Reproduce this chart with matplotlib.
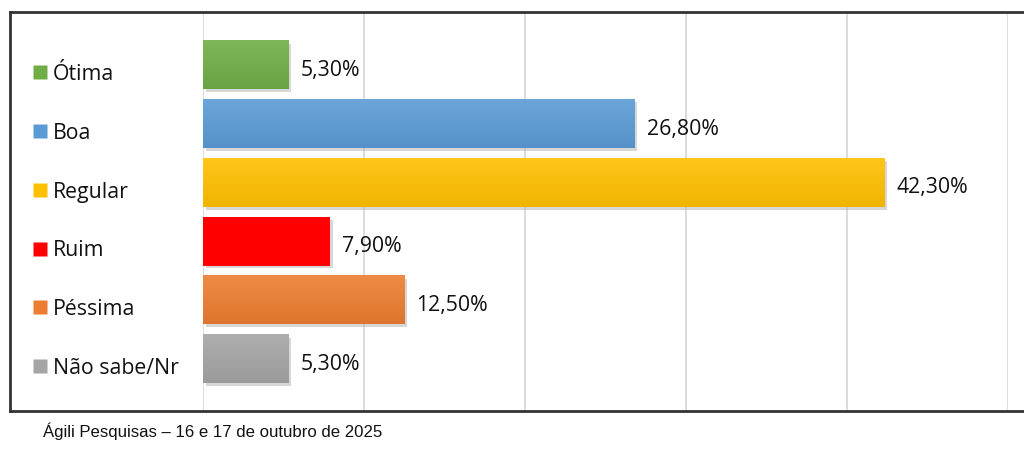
import numpy as np
import matplotlib
matplotlib.use("Agg")
import matplotlib.pyplot as plt
import matplotlib.patheffects as pe
from matplotlib.transforms import blended_transform_factory
from matplotlib.colors import to_rgb

categories = ["Ótima", "Boa", "Regular", "Ruim", "Péssima", "Não sabe/Nr"]
values = [5.3, 26.8, 42.3, 7.9, 12.5, 5.3]
labels = ["5,30%", "26,80%", "42,30%", "7,90%", "12,50%", "5,30%"]
colors = ["#70AD47", "#5B9BD5", "#FFC000", "#FF0000", "#ED7D31", "#A5A5A5"]
footer = "Ágili Pesquisas – 16 e 17 de outubro de 2025"

W, H = 1024, 449
fig = plt.figure(figsize=(W / 100, H / 100), dpi=100)
fig.patch.set_facecolor("white")

# axes: 0% at x=203px, 50% at x=1008px, y from 12 to 411px
ax = fig.add_axes([203 / W, 1 - 411 / H, (1008 - 203) / W, (411 - 12) / H])
ax.axis("off")

for gx in range(0, 51, 10):
    ax.axvline(gx, color="#D9D9D9", lw=1.3, zorder=0)

bar_h = 0.82
y = np.arange(len(categories))
bars = ax.barh(y, values, height=bar_h, color=colors, zorder=2,
               path_effects=[pe.SimplePatchShadow(offset=(2, -2), shadow_rgbFace="#b0b0b0", alpha=0.5), pe.Normal()])

# soft vertical gradient on each bar (lighter top, darker bottom), except flat red
for i, (v, c) in enumerate(zip(values, colors)):
    if c == "#FF0000":
        continue
    base = np.array(to_rgb(c))
    top = np.clip(base + (1 - base) * 0.1, 0, 1)
    bot = base * 0.94
    t = np.linspace(0, 1, 50)[:, None]
    grad = (top * (1 - t) + bot * t)[:, None, :]
    ax.imshow(grad, extent=(0, v, y[i] + bar_h / 2, y[i] - bar_h / 2),
              aspect="auto", zorder=3, interpolation="bilinear")
ax.set_xlim(0, 50)
ax.set_ylim(5.88, -0.9)

for i, (v, lab) in enumerate(zip(values, labels)):
    ax.text(v + 0.75, y[i] + 0.09, lab, va="center", ha="left",
            fontsize=15.3, family="Open Sans", color="#111111", zorder=4)

# category labels with coloured squares on the left
tr = blended_transform_factory(fig.transFigure, ax.transData)
for i, (cat, c) in enumerate(zip(categories, colors)):
    ax.plot([40 / W], [y[i] + 0.12], marker="s", ms=10, color=c, transform=tr,
            clip_on=False, mec="none")
    ax.text(53 / W, y[i] + 0.16, cat, transform=tr, va="center", ha="left",
            fontsize=15.3, family="Open Sans", color="#111111")

# frame around chart (open on the right)
frame_c = "#333333"
fig.add_artist(plt.Line2D([10 / W, 1], [1 - 12 / H, 1 - 12 / H], color=frame_c, lw=2, transform=fig.transFigure))
fig.add_artist(plt.Line2D([10 / W, 1], [1 - 411 / H, 1 - 411 / H], color=frame_c, lw=2, transform=fig.transFigure))
fig.add_artist(plt.Line2D([10 / W, 10 / W], [1 - 12 / H, 1 - 411 / H], color=frame_c, lw=2, transform=fig.transFigure))

fig.text(43 / W, 1 - 431 / H, footer, fontsize=12.1, family="Liberation Sans",
         va="center", ha="left", color="#111111")

fig.savefig("out.png", dpi=100, facecolor="white")
